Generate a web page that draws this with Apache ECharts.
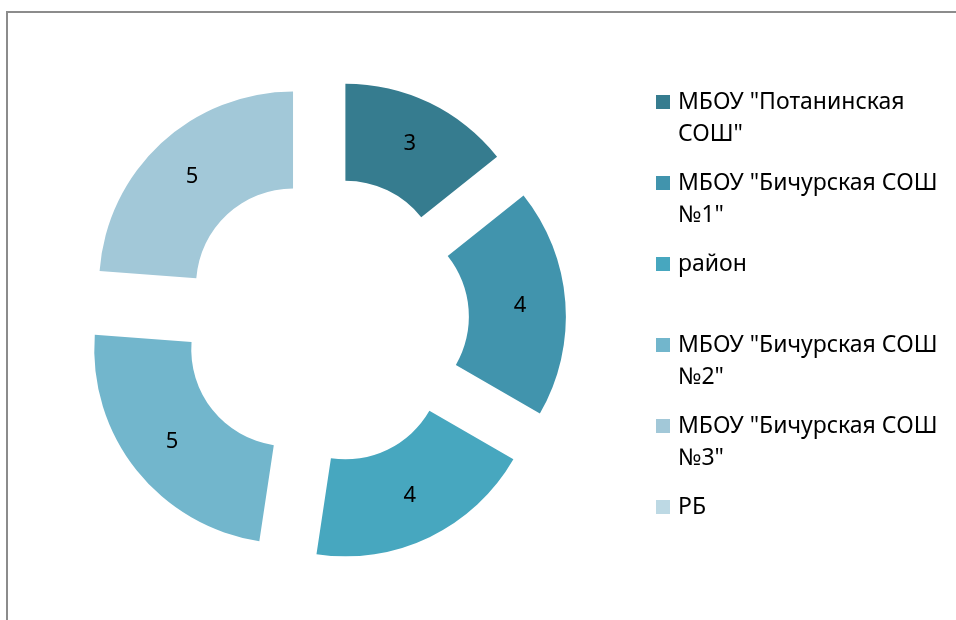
<!DOCTYPE html>
<html>
<head>
<meta charset="utf-8">
<script src="https://cdn.jsdelivr.net/npm/echarts@6/dist/echarts.min.js"></script>
<style>
	html, body { margin: 0; padding: 0; background: #fff; }
	#cn { width: 956px; height: 620px; }
</style>
</head>
<body>
<div id="cn"></div>
<script>
'use strict';

const SCHOOLS = ['МБОУ "Потанинская СОШ"', 'МБОУ "Бичурская СОШ №1"', 'район', 'МБОУ "Бичурская СОШ №2"', 'МБОУ "Бичурская СОШ №3"', 'РБ'];
const SCORES = [3, 4, 4, 5, 5, null]; // РБ has no slice on the picture
const COLORS = ['#367c8f', '#4194ad', '#47a7bf', '#72b6cc', '#a2c8d8', '#bdd9e4'];

const FONT = '"Noto Sans", sans-serif';
const LINE_H = 32;

// every legend entry is 3 lines tall so the gaps stay even;
// wrapped names get a blank line on top, so the marker sits on line 1 (excel style)
const legendData = SCHOOLS.map(name => ({
	name: name,
	icon: 'rect',
	textStyle: {
		padding: / /.test(name) ? [0, 0, 0, 3] : [LINE_H, 0, LINE_H, 3]
	}
}));

const wrapName = name => / /.test(name) ? ' \n' + name.replace(/ (\S+)$/, '\n$1') : name;

const pieData = SCHOOLS.map((name, i) => ({
	name: name,
	value: SCORES[i],
	selected: true,
	itemStyle: { color: COLORS[i] }
}));

const chart = echarts.init(document.getElementById('cn'));

const option = {
	animation: false,
	backgroundColor: '#fff',
	color: COLORS,
	graphic: [{
		type: 'rect',
		shape: { x: 7, y: 12, width: 1000, height: 1000 },
		style: { fill: 'none', stroke: '#8c8c8c', lineWidth: 2 },
		silent: true
	}],
	legend: {
		orient: 'vertical',
		left: 656,
		top: 102 - 1.5 * LINE_H,
		padding: 0,
		itemWidth: 14,
		itemHeight: 14,
		itemGap: 81 - 3 * LINE_H,
		data: legendData,
		formatter: wrapName,
		textStyle: {
			fontFamily: FONT,
			fontSize: 23,
			lineHeight: LINE_H,
			color: '#000'
		}
	},
	series: [{
		type: 'pie',
		center: [325, 320],
		radius: [97, 194],
		startAngle: 90,
		clockwise: true,
		selectedMode: 'multiple',
		selectedOffset: 47,
		avoidLabelOverlap: false,
		data: pieData,
		label: {
			show: true,
			position: 'inside',
			fontFamily: FONT,
			fontSize: 22,
			color: '#000',
			formatter: p => (p.value ? String(p.value) : '')
		},
		labelLine: { show: false },
		emphasis: { disabled: true },
		select: { itemStyle: { borderWidth: 0 } }
	}]
};

chart.setOption(option);
</script>
</body>
</html>
